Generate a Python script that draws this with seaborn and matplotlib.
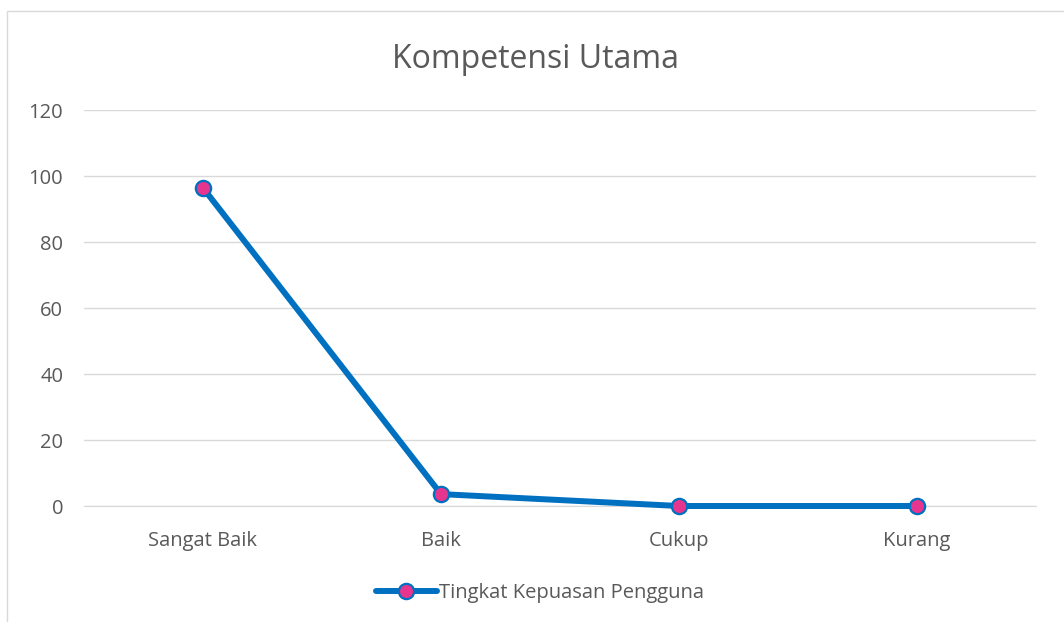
import numpy as np
import pandas as pd
import matplotlib.pyplot as plt
import seaborn as sns
from matplotlib.patches import Rectangle

categories = ["Sangat Baik", "Baik", "Cukup", "Kurang"]
values = [96.4, 3.6, 0, 0]
series_name = "Tingkat Kepuasan Pengguna"

df = pd.DataFrame({"kategori": categories, "nilai": values, "seri": series_name})

sns.set_style("white")
plt.rcParams["font.family"] = ["Open Sans", "DejaVu Sans"]

fig = plt.figure(figsize=(10.64, 6.22), dpi=100)
ax = fig.add_axes([84 / 1064, (622 - 506) / 622, 952 / 1064, 396 / 622])

x = np.arange(len(categories))
sns.lineplot(x=x, y=df["nilai"], ax=ax, color="#0070C0", linewidth=4.3,
             marker="o", markersize=11, markerfacecolor="#E5358F",
             markeredgecolor="#0070C0", markeredgewidth=1.6,
             label=series_name, sort=False, legend=False, clip_on=False,
             zorder=5)

ax.set_xlim(-0.5, 3.5)
ax.set_ylim(0, 120)
ax.set_yticks(range(0, 121, 20))
ax.set_xticks(x)
ax.set_xticklabels(categories)
ax.set_xlabel("")
ax.set_ylabel("")
ax.grid(axis="y", color="#D9D9D9", linewidth=1)
ax.set_axisbelow(True)
for s in ["top", "right", "left"]:
    ax.spines[s].set_visible(False)
ax.spines["bottom"].set_color("#D9D9D9")
ax.tick_params(axis="both", length=0, labelsize=14.5, labelcolor="#595959")
ax.tick_params(axis="x", pad=18)
ax.tick_params(axis="y", pad=15)

fig.text(536 / 1064, 1 - 59 / 622, "Kompetensi Utama", ha="center", va="center",
         fontsize=23, color="#595959")

handles, labels = ax.get_legend_handles_labels()
fig.legend(handles, labels, loc="center", bbox_to_anchor=(540 / 1064, 1 - 593 / 622),
           frameon=False, fontsize=14.5, labelcolor="#595959", handlelength=3,
           handletextpad=0.1)

fig.patches.append(Rectangle((7 / 1064, -0.01), 1.1, 1 - 11 / 622 + 0.01,
                             transform=fig.transFigure, fill=False,
                             edgecolor="#D9D9D9", linewidth=1))

fig.savefig("out.png", dpi=100)
